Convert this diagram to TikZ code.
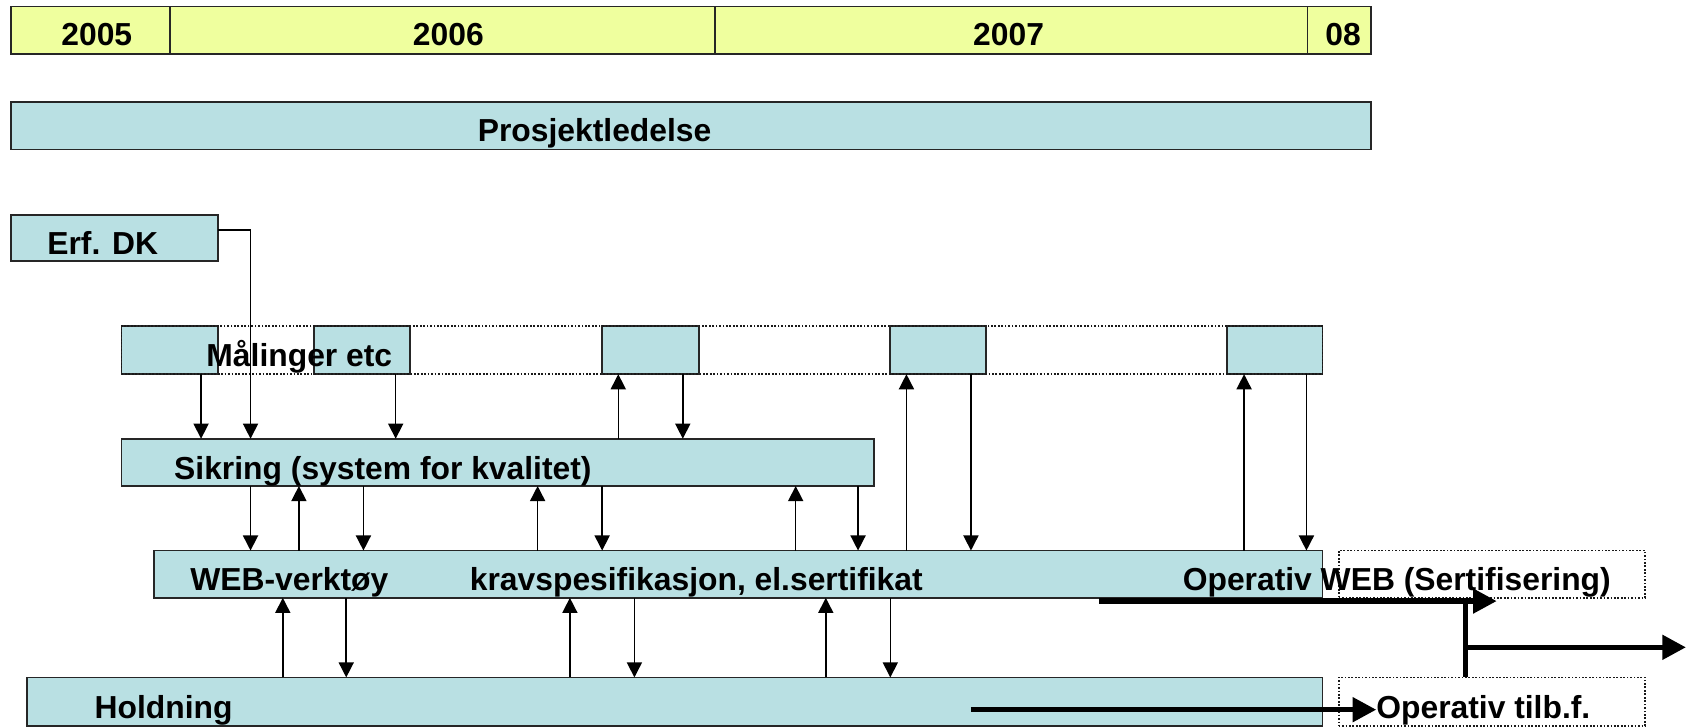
\documentclass[tikz,border=0pt]{standalone}
\usepackage{fontspec}
\setmainfont{Liberation Sans}
\usetikzlibrary{arrows.meta}
\definecolor{lblue}{RGB}{185,224,227}
\definecolor{lyel}{RGB}{239,255,158}
\begin{document}
\begin{tikzpicture}[x=0.5pt,y=-0.5pt,
  bx/.style 2 args={draw=black!85, line width=0.8pt, fill=lblue, inner sep=0pt, outer sep=0pt,
     anchor=north west, minimum width=#1*0.5pt, minimum height=#2*0.5pt},
  yr/.style={bx={#1}{44}, fill=lyel},
  dotbox/.style 2 args={draw=black!90, line width=0.8pt, dash pattern=on 0.8pt off 0.8pt,
     inner sep=0pt, outer sep=0pt, anchor=north west, minimum width=#1*0.5pt, minimum height=#2*0.5pt},
  txt/.style={inner sep=0pt, outer sep=0pt, font=\fontsize{14.8pt}{16pt}\selectfont\bfseries},
  arr/.style={line width=0.7pt, -{Triangle[width=7pt,length=7pt]}},
  tarr/.style={line width=2.6pt, -{Triangle[width=11pt,length=11pt]}},
  tline/.style={line width=2.6pt}
]
\useasboundingbox (0,0) rectangle (1568,676);

% year bar
\node[yr=148] (y5) at (10,6) {};
\node[yr=507] (y6) at (158,6) {};
\node[yr=551] (y7) at (665,6) {};
\node[yr=59]  (y8) at (1216,6) {};
\node[txt, anchor=base] (ty5) at (90,42) {2005};
\node[txt, anchor=base] (ty6) at (417,42) {2006};
\node[txt, anchor=base] (ty7) at (938,42) {2007};
\node[txt, anchor=base] (ty8) at (1249,42) {08};

% Prosjektledelse
\node[bx={1265}{44}] (pl) at (10,95) {};
\node[txt, anchor=base] (tpl) at (553,132) {Prosjektledelse};

% Erf. DK
\node[bx={193}{43}] (erf) at (10,200) {};
\node[txt, anchor=base west] (terf) at (44,237) {Erf. DK};

% Maalinger row
\node[bx={90}{45}] (m1) at (113,303) {};
\node[bx={89}{45}] (m2) at (292,303) {};
\node[bx={90}{45}] (m3) at (560,303) {};
\node[bx={89}{45}] (m4) at (828,303) {};
\node[bx={89}{45}] (m5) at (1141,303) {};
\node[dotbox={1117}{45}] (mrow) at (113,303) {};
\node[txt, anchor=base west] (tmal) at (192,341) {Målinger etc};

% Sikring
\node[bx={700}{44}] (sik) at (113,408) {};
\node[txt, anchor=base west] (tsik) at (162,446) {Sikring (system for kvalitet)};

% WEB
\node[bx={1087}{44}] (web) at (143,512) {};
\node[dotbox={285}{44}] (webx) at (1245,512) {};
\node[txt, anchor=base west] (tweb1) at (177,549.5) {WEB-verktøy};
\node[txt, anchor=base west] (tweb2) at (437,549.5) {kravspesifikasjon, el.sertifikat};
\node[txt, anchor=base west] (tweb3) at (1100,549.5) {Operativ WEB (Sertifisering)};

% Holdning
\node[bx={1205}{45}] (hold) at (25,630) {};
\node[dotbox={285}{45}] (holdx) at (1245,630) {};
\node[txt, anchor=base west] (thold) at (88,668) {Holdning};
\node[txt, anchor=base west] (totf) at (1280,668) {Operativ tilb.f.};

% x positions of connectors
\foreach \x in {187,233,263,278,322,338,368,500,530,560,575,590,635,740,768,798,828,843,903,1157,1215,1363}
  \coordinate (c\x) at (\x,0);
\coordinate (ey) at (0,214);

% Maalinger / Erf -> Sikring
\draw[arr] (m1.south -| c187) -- (sik.north -| c187);
\draw[arr] (erf.east |- ey) -| (sik.north -| c233);
\draw[arr] (m2.south -| c368) -- (sik.north -| c368);
\draw[arr] (sik.north -| c575) -- (m3.south -| c575);
\draw[arr] (m3.south -| c635) -- (sik.north -| c635);

% WEB <-> Maalinger
\draw[arr] (web.north -| c843) -- (m4.south -| c843);
\draw[arr] (m4.south -| c903) -- (web.north -| c903);
\draw[arr] (web.north -| c1157) -- (m5.south -| c1157);
\draw[arr] (m5.south -| c1215) -- (web.north -| c1215);

% Sikring <-> WEB
\foreach \x in {233,338,560,798}
  \draw[arr] (sik.south -| c\x) -- (web.north -| c\x);
\foreach \x in {278,500,740}
  \draw[arr] (web.north -| c\x) -- (sik.south -| c\x);

% WEB <-> Holdning
\foreach \x in {263,530,768}
  \draw[arr] (hold.north -| c\x) -- (web.south -| c\x);
\foreach \x in {322,590,828}
  \draw[arr] (web.south -| c\x) -- (hold.north -| c\x);

% thick arrows
\coordinate (a1s) at (1022,559);
\coordinate (a1e) at (1392,559);
\draw[tarr] (a1s) -- (a1e);
\draw[tline] (c1363 |- a1s) -- (holdx.north -| c1363);
\coordinate (a3s) at (1363,602);
\coordinate (a3e) at (1568,602);
\draw[tarr] (a3s) -- (a3e);
\coordinate (a4s) at (903,660);
\draw[tarr] (a4s) -- (totf.west |- a4s);
\end{tikzpicture}
\end{document}
